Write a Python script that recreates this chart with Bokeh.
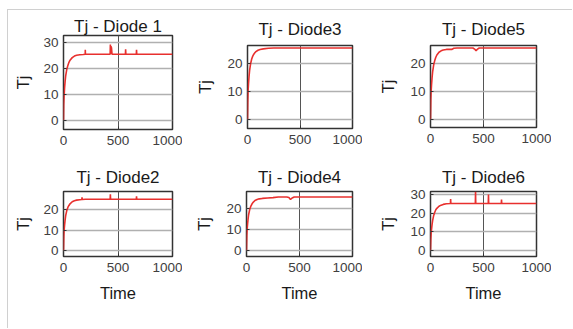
from bokeh.plotting import figure
from bokeh.layouts import column, row
from bokeh.models import FixedTicker, Range1d, Title
from bokeh.embed import file_html
from bokeh.resources import INLINE

titles = ["Tj - Diode 1", "Tj - Diode3", "Tj - Diode5", "Tj - Diode2", "Tj - Diode4", "Tj - Diode6"]
x_ticks = [0, 500, 1000]

d1_t = [0, 2, 5, 8, 10, 15, 20, 30, 40, 50, 60, 80, 100, 120, 150, 180, 199, 200, 201, 300, 428, 430, 432, 436, 438, 440, 445, 500, 568, 570, 572, 668, 670, 672, 800, 1000]
d1_y = [0, 6, 9, 11, 12.5, 15, 17, 19.5, 21, 22.2, 23, 24, 24.6, 24.9, 25.1, 25.2, 25.3, 27, 25.3, 25.3, 25.3, 29, 25.3, 28.5, 25.3, 28, 25.3, 25.3, 25.3, 27.2, 25.3, 25.3, 27, 25.3, 25.3, 25.3]

d3_t = [0, 3, 6, 10, 15, 20, 30, 40, 50, 60, 70, 80, 100, 120, 150, 200, 250, 300, 500, 1000]
d3_y = [0, 7, 10.5, 13, 15.5, 17.5, 20, 21.6, 22.6, 23.3, 23.8, 24.2, 24.7, 25, 25.2, 25.4, 25.5, 25.5, 25.5, 25.5]

d5_t = [0, 3, 6, 10, 15, 20, 30, 40, 50, 60, 80, 100, 120, 150, 200, 220, 250, 300, 400, 420, 430, 440, 460, 500, 1000]
d5_y = [0, 7, 10, 12.5, 15, 17, 19.5, 21, 22.2, 23, 24, 24.5, 24.8, 25, 25, 25.4, 25.5, 25.5, 25.5, 25, 24.5, 25, 25.5, 25.5, 25.5]

d2_t = [0, 3, 6, 10, 15, 20, 30, 40, 50, 60, 80, 100, 120, 150, 168, 170, 172, 200, 300, 428, 430, 432, 500, 668, 670, 672, 1000]
d2_y = [0, 7, 10, 12.5, 15, 17, 19.5, 21, 22, 22.8, 23.8, 24.3, 24.6, 24.8, 24.9, 26, 24.9, 25, 25, 25, 27.5, 25, 25, 25, 26.5, 25, 25]

d4_t = [0, 3, 6, 10, 15, 20, 30, 40, 50, 60, 80, 100, 120, 150, 200, 250, 300, 380, 400, 415, 430, 450, 500, 1000]
d4_y = [0, 7, 10, 12.5, 15, 17, 19.5, 21, 22, 22.8, 23.8, 24.3, 24.6, 24.8, 25, 25.2, 25.5, 25.5, 25.2, 24.3, 25, 25.5, 25.5, 25.5]

d6_t = [0, 3, 6, 10, 15, 20, 30, 40, 50, 60, 80, 100, 120, 150, 188, 190, 192, 300, 423, 425, 427, 545, 547, 549, 668, 670, 672, 1000]
d6_y = [0, 6, 9, 11.5, 14, 16, 18.8, 20.5, 21.8, 22.6, 23.7, 24.3, 24.7, 25, 25.2, 27.5, 25.2, 25.2, 25.2, 31.5, 25.2, 25.2, 30, 25.2, 25.2, 27.3, 25.2, 25.2]

y_ranges = [(-3.6, 32.5), (-3.2, 26.4), (-2.9, 26.4), (-2.9, 28.8), (-2.9, 28.1), (-3.2, 31.6)]
y_ticks = [0, 10, 20, 30]

FONT = "Liberation Sans"


def make(idx, t, y, fw, fh, left, right, top, bottom, gap, lstand, xlabel):
    y0, y1 = y_ranges[idx]
    p = figure(frame_width=fw, frame_height=fh, output_backend="svg", toolbar_location=None,
               min_border_left=left, min_border_right=right, min_border_top=top, min_border_bottom=bottom,
               x_range=Range1d(0, 1000), y_range=Range1d(y0, y1), frame_align=False, title=None)
    if gap:
        p.add_layout(Title(text=" ", text_font_size=f"{gap}px", standoff=0, offset=0), "above")
    p.add_layout(Title(text=titles[idx], align="center", text_font=FONT, text_font_size="17px",
                       text_font_style="normal", text_color="#1a1a1a", standoff=0, offset=0), "above")
    p.line(t, y, line_color="#e8302e", line_width=1.6)
    p.outline_line_color = "#333333"
    p.outline_line_width = 1.5
    p.outline_line_alpha = 1
    p.xaxis.ticker = FixedTicker(ticks=x_ticks)
    p.yaxis.ticker = FixedTicker(ticks=y_ticks)
    for ax in (p.xaxis[0], p.yaxis[0]):
        ax.axis_line_color = None
        ax.major_tick_in = 3
        ax.major_tick_out = 0
        ax.major_tick_line_color = "#333333"
        ax.minor_tick_line_color = None
        ax.major_label_text_font = FONT
        ax.major_label_text_font_size = "13.5px"
        ax.major_label_text_color = "#404040"
        ax.axis_label_text_font = FONT
        ax.axis_label_text_font_size = "16.5px"
        ax.axis_label_text_font_style = "normal"
        ax.axis_label_text_color = "#1a1a1a"
    p.yaxis.axis_label = "Tj"
    p.yaxis.major_label_standoff = 5
    p.yaxis.axis_label_standoff = lstand
    p.xaxis.major_label_standoff = 6
    if xlabel:
        p.xaxis.axis_label = "Time"
        p.xaxis.axis_label_standoff = 9
    p.ygrid.grid_line_color = "#b0b0b0"
    p.ygrid.grid_line_width = 1.5
    p.xgrid.grid_line_color = "#555555"
    p.xgrid.grid_line_width = 1
    p.background_fill_color = "white"
    p.border_fill_color = "white"
    return p


f1 = make(0, d1_t, d1_y, 109, 94, 55, 10, 25, 28, 0, 8, False)
f3 = make(1, d3_t, d3_y, 105, 83, 65, 10, 35, 29, 4, 10, False)
f5 = make(2, d5_t, d5_y, 106, 82, 68, 15, 35, 30, 4, 10, False)
f2 = make(3, d2_t, d2_y, 109, 65, 55, 10, 34, 59, 3, 8, True)
f4 = make(4, d4_t, d4_y, 106, 65, 64, 10, 34, 59, 3, 10, True)
f6 = make(5, d6_t, d6_y, 106, 65, 68, 15, 34, 59, 3, 10, True)

p = column(row(f1, f3, f5, spacing=0), row(f2, f4, f6, spacing=0), spacing=0,
           styles={"border-left": "1px solid #d0d0d0", "border-top": "1px solid #d0d0d0",
                   "margin-top": "9px", "margin-left": "7px", "box-sizing": "border-box",
                   "width": "565px", "height": "319px"})

open("out.html", "w").write(file_html(p, INLINE))
